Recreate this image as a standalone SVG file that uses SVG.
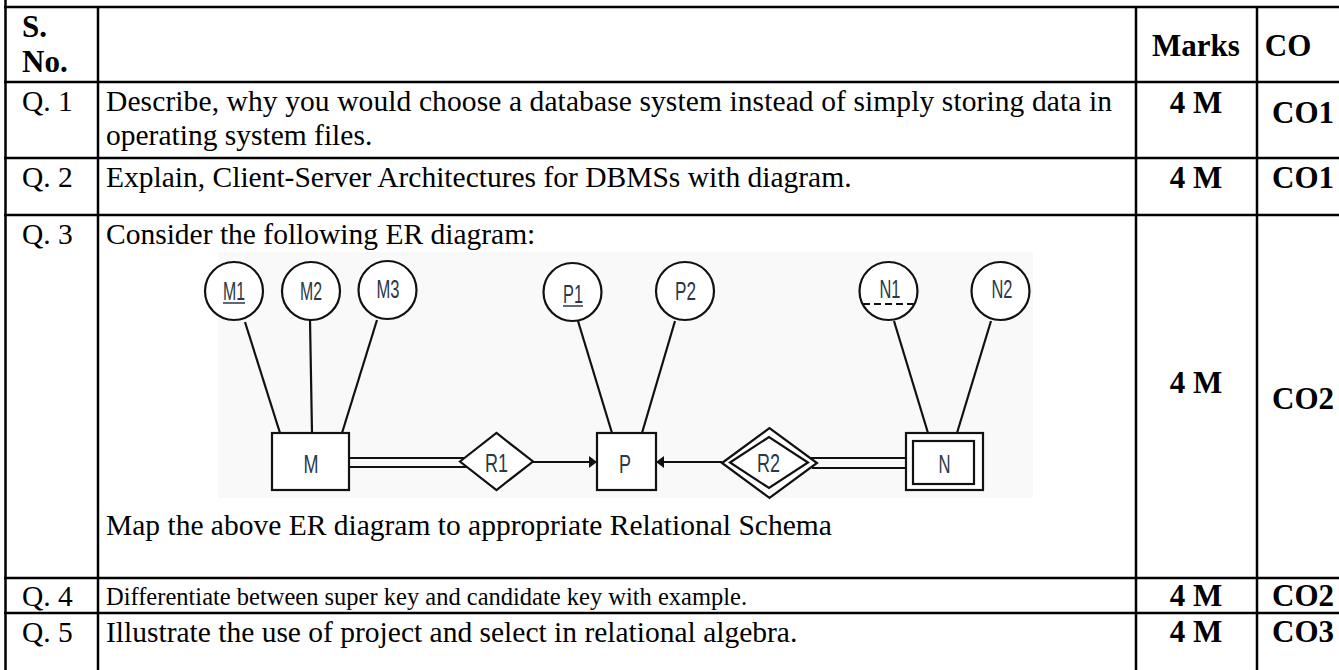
<svg xmlns="http://www.w3.org/2000/svg" width="1339" height="670" viewBox="0 0 1339 670">
<style>
.grid{stroke:#000;stroke-width:2.5;fill:none}
.t{font-family:"Liberation Serif","Times New Roman",serif;font-size:29.5px;fill:#000}
.b{font-family:"Liberation Serif","Times New Roman",serif;font-size:31px;font-weight:bold;fill:#000}
.s{font-family:"Liberation Serif","Times New Roman",serif;font-size:24.5px;fill:#000}
.lbl{font-family:"Liberation Sans Narrow","Liberation Sans","DejaVu Sans Condensed",sans-serif;font-size:25px;fill:#2a3848;text-anchor:middle}
.shape{fill:#fff;stroke:#111;stroke-width:2.2}
.ln{stroke:#111;stroke-width:2.2;fill:none}
</style>
<defs>
<marker id="arr" markerUnits="userSpaceOnUse" markerWidth="9" markerHeight="12" refX="8" refY="6" orient="auto">
<path d="M0,0 L8,6 L0,12 z" fill="#111"/>
</marker>
</defs>
<rect width="1339" height="670" fill="#fff"/>

<g id="table-grid" class="grid">
<line x1="5.5" y1="0" x2="5.5" y2="670"/>
<line x1="98" y1="7" x2="98" y2="670"/>
<line x1="1136" y1="7" x2="1136" y2="670"/>
<line x1="1257" y1="7" x2="1257" y2="670"/>
<line x1="4" y1="7" x2="1339" y2="7"/>
<line x1="4" y1="82" x2="1339" y2="82"/>
<line x1="4" y1="158" x2="1339" y2="158"/>
<line x1="4" y1="215" x2="1339" y2="215"/>
<line x1="4" y1="578" x2="1339" y2="578"/>
<line x1="4" y1="613" x2="1339" y2="613"/>
</g>

<g id="header">
<text class="b" x="22" y="37">S.</text>
<text class="b" x="22" y="72">No.</text>
<text class="b" x="1196" y="56" text-anchor="middle">Marks</text>
<text class="b" x="1288" y="56" text-anchor="middle">CO</text>
</g>

<g id="row-q1">
<text class="t" x="22" y="111">Q. 1</text>
<text class="t" x="106" y="111" textLength="1006" lengthAdjust="spacing">Describe, why you would choose a database system instead of simply storing data in</text>
<text class="t" x="106" y="145">operating system files.</text>
<text class="b" x="1196" y="113" text-anchor="middle">4 M</text>
<text class="b" x="1272" y="123">CO1</text>
</g>

<g id="row-q2">
<text class="t" x="22" y="187">Q. 2</text>
<text class="t" x="106" y="187">Explain, Client-Server Architectures for DBMSs with diagram.</text>
<text class="b" x="1196" y="188" text-anchor="middle">4 M</text>
<text class="b" x="1272" y="188">CO1</text>
</g>

<g id="row-q3">
<text class="t" x="22" y="244">Q. 3</text>
<text class="t" x="106" y="244">Consider the following ER diagram:</text>
<text class="t" x="106" y="535">Map the above ER diagram to appropriate Relational Schema</text>
<text class="b" x="1196" y="393" text-anchor="middle">4 M</text>
<text class="b" x="1272" y="409">CO2</text>
</g>

<g id="row-q4">
<text class="t" x="22" y="606">Q. 4</text>
<text class="s" x="106" y="605">Differentiate between super key and candidate key with example.</text>
<text class="b" x="1196" y="606" text-anchor="middle">4 M</text>
<text class="b" x="1272" y="606">CO2</text>
</g>

<g id="row-q5">
<text class="t" x="22" y="642">Q. 5</text>
<text class="t" x="106" y="642">Illustrate the use of project and select in relational algebra.</text>
<text class="b" x="1196" y="642" text-anchor="middle">4 M</text>
<text class="b" x="1272" y="642">CO3</text>
</g>

<rect id="er-background" x="218" y="252" width="815" height="246" fill="#f9f9f9"/>

<g id="connectors">
<line class="ln" x1="245" y1="322" x2="280" y2="433"/>
<line class="ln" x1="310" y1="320" x2="312" y2="433"/>
<line class="ln" x1="377" y1="320" x2="342" y2="433"/>
<line class="ln" x1="578" y1="321" x2="612" y2="433"/>
<line class="ln" x1="675" y1="321" x2="642" y2="433"/>
<line class="ln" x1="894" y1="321" x2="928" y2="433"/>
<line class="ln" x1="991" y1="321" x2="957" y2="433"/>
<line class="ln" x1="349" y1="458" x2="465" y2="458"/>
<line class="ln" x1="349" y1="467" x2="467" y2="467"/>
<line class="ln" x1="533" y1="462" x2="597" y2="462" marker-end="url(#arr)"/>
<line class="ln" x1="722" y1="462" x2="656" y2="462" marker-end="url(#arr)"/>
<line class="ln" x1="811" y1="458" x2="906" y2="458"/>
<line class="ln" x1="812" y1="468" x2="906" y2="468"/>
</g>

<g id="attr-M1">
<circle class="shape" cx="234" cy="291" r="29"/>
<text class="lbl" x="234" y="300" textLength="22" lengthAdjust="spacingAndGlyphs">M1</text>
<line x1="223" y1="303" x2="245" y2="303" stroke="#2a3848" stroke-width="1.5"/>
</g>
<g id="attr-M2">
<circle class="shape" cx="311" cy="291" r="29"/>
<text class="lbl" x="311" y="300" textLength="22" lengthAdjust="spacingAndGlyphs">M2</text>
</g>
<g id="attr-M3">
<circle class="shape" cx="387.5" cy="290" r="29"/>
<text class="lbl" x="388" y="298" textLength="23" lengthAdjust="spacingAndGlyphs">M3</text>
</g>
<g id="attr-P1">
<circle class="shape" cx="572.5" cy="292" r="29"/>
<text class="lbl" x="573" y="303" textLength="20" lengthAdjust="spacingAndGlyphs">P1</text>
<line x1="563" y1="306" x2="583" y2="306" stroke="#2a3848" stroke-width="1.5"/>
</g>
<g id="attr-P2">
<circle class="shape" cx="685" cy="291" r="29"/>
<text class="lbl" x="685.5" y="300" textLength="21" lengthAdjust="spacingAndGlyphs">P2</text>
</g>
<g id="attr-N1">
<circle class="shape" cx="888.5" cy="291" r="29"/>
<text class="lbl" x="890" y="298" textLength="21" lengthAdjust="spacingAndGlyphs">N1</text>
<line x1="863" y1="304" x2="915" y2="304" stroke="#111" stroke-width="2" stroke-dasharray="7 4"/>
</g>
<g id="attr-N2">
<circle class="shape" cx="1000.5" cy="291" r="29"/>
<text class="lbl" x="1002" y="298" textLength="21" lengthAdjust="spacingAndGlyphs">N2</text>
</g>

<g id="entity-M">
<rect class="shape" x="272" y="433" width="77" height="57" stroke-width="2.5"/>
<text class="lbl" x="311" y="473" textLength="15" lengthAdjust="spacingAndGlyphs">M</text>
</g>
<g id="rel-R1">
<polygon class="shape" points="460,461.5 496.5,433 533,461.5 496.5,490"/>
<text class="lbl" x="496.5" y="472" textLength="23" lengthAdjust="spacingAndGlyphs">R1</text>
</g>
<g id="entity-P">
<rect class="shape" x="597" y="433" width="59" height="57" stroke-width="2.5"/>
<text class="lbl" x="625" y="473" textLength="12" lengthAdjust="spacingAndGlyphs">P</text>
</g>
<g id="rel-R2">
<polygon class="shape" points="722,463 769.5,428 817,463 769.5,498"/>
<polygon class="shape" points="730,462.5 769,437 808,462.5 769,488"/>
<text class="lbl" x="768.5" y="472" textLength="23" lengthAdjust="spacingAndGlyphs">R2</text>
</g>
<g id="entity-N">
<rect class="shape" x="906" y="433" width="77" height="57" stroke-width="2.5"/>
<rect class="shape" x="913" y="441" width="61" height="43" stroke-width="2.8"/>
<text class="lbl" x="944.5" y="473" textLength="12" lengthAdjust="spacingAndGlyphs">N</text>
</g>
</svg>
